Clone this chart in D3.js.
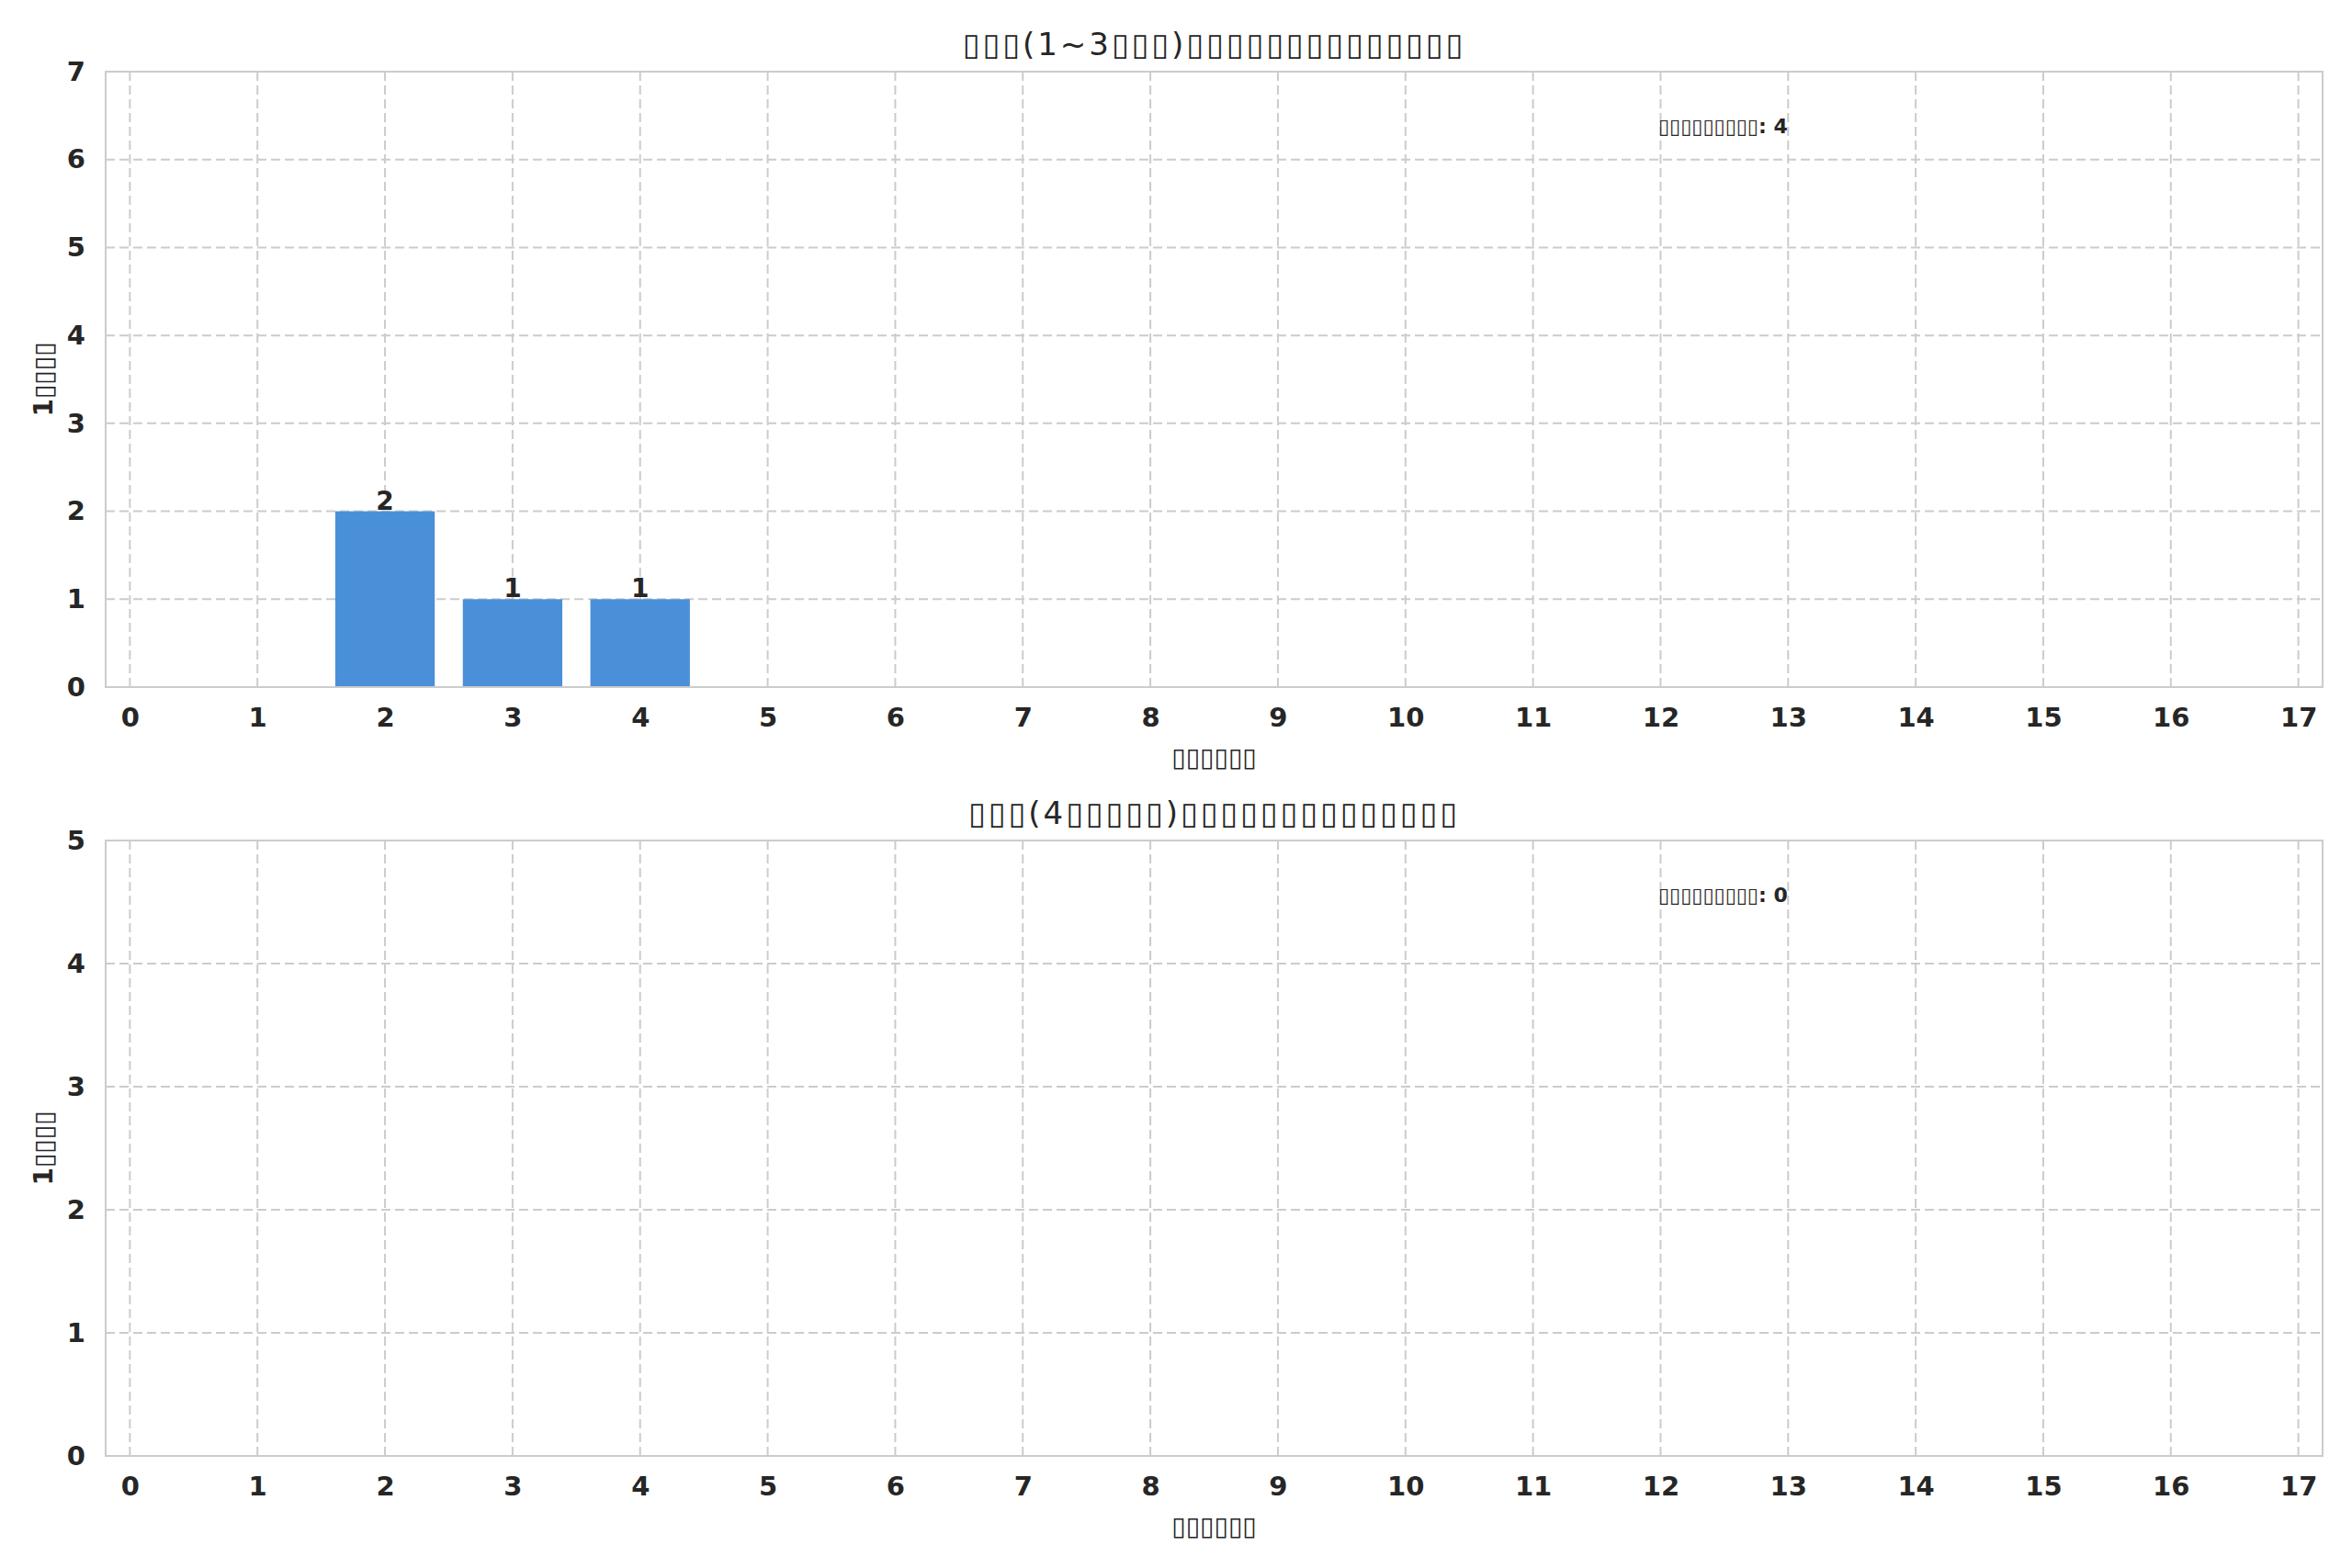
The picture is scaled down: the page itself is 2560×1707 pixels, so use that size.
<!DOCTYPE html>
<html>
<head>
<meta charset="utf-8">
<script src="https://cdn.jsdelivr.net/npm/d3@7"></script>
<style>
  body { margin: 0; background: #fff; }
  text { font-family: "DejaVu Sans", sans-serif; fill: #262626; }
</style>
</head>
<body>
<div id="chart-area"></div>
<script>
// glyphs the original font could not draw are kept as boxes
const box = "\u25AF";

const attempts = d3.range(0, 18);
const upperCounts = [0, 0, 2, 1, 1, 0, 0, 0, 0, 0, 0, 0, 0, 0, 0, 0, 0, 0];
const lowerCounts = [0, 0, 0, 0, 0, 0, 0, 0, 0, 0, 0, 0, 0, 0, 0, 0, 0, 0];
const upperYTicks = [0, 1, 2, 3, 4, 5, 6, 7];
const lowerYTicks = [0, 1, 2, 3, 4, 5];
const xTickLabels = attempts.map(d => String(d));

const titles = [
    box.repeat(3) + "(1~3" + box.repeat(3) + ")" + box.repeat(14),
    box.repeat(3) + "(4" + box.repeat(5) + ")" + box.repeat(14)
];
const xLabel = box.repeat(6);
const yLabel = "1" + box.repeat(4);
const noteLabel = box.repeat(9) + ": ";

const full_width = 2560, full_height = 1707;
const margin = { left: 115, right: 32 };
const width = full_width - margin.left - margin.right;
const panelHeight = 670;
const panelTops = [78, 915];

const svg = d3.select("#chart-area").append("svg")
    .attr("width", full_width).attr("height", full_height);

const x = d3.scaleLinear().domain([-0.19, 17.19]).range([0, width]);

function drawPanel(top, counts, yTicks, title) {
    const g = svg.append("g").attr("transform", "translate(" + margin.left + ", " + top + ")");
    const y = d3.scaleLinear().domain([0, d3.max(yTicks)]).range([panelHeight, 0]);

    // grid
    g.append("g").selectAll("line.vgrid").data(attempts).enter()
        .append("line")
        .attr("x1", d => x(d)).attr("x2", d => x(d))
        .attr("y1", 0).attr("y2", panelHeight)
        .attr("stroke", "#cccccc").attr("stroke-width", 2)
        .attr("stroke-dasharray", "10,5");
    g.append("g").selectAll("line.hgrid").data(yTicks).enter()
        .append("line")
        .attr("x1", 0).attr("x2", width)
        .attr("y1", d => y(d)).attr("y2", d => y(d))
        .attr("stroke", "#cccccc").attr("stroke-width", 2)
        .attr("stroke-dasharray", "10,5");

    // bars
    const barW = x(0.78) - x(0);
    const rows = counts.map((v, i) => ({ k: attempts[i], v: v }));
    g.selectAll("rect.bar").data(rows).enter()
        .append("rect")
        .attr("x", d => x(d.k) - barW / 2)
        .attr("y", d => y(d.v))
        .attr("width", barW)
        .attr("height", d => panelHeight - y(d.v))
        .attr("fill", "#4a90d9");

    g.selectAll("text.barlabel").data(rows.filter(d => d.v > 0)).enter()
        .append("text")
        .attr("x", d => x(d.k))
        .attr("y", d => y(d.v) - 2)
        .attr("text-anchor", "middle")
        .attr("font-size", "28px")
        .attr("font-weight", "bold")
        .text(d => d.v);

    // frame
    g.append("rect")
        .attr("width", width).attr("height", panelHeight)
        .attr("fill", "none").attr("stroke", "#cccccc").attr("stroke-width", 2);

    // axes
    const xAxisCall = d3.axisBottom(x).tickValues(attempts).tickSize(0).tickPadding(22)
        .tickFormat((d, i) => xTickLabels[i]);
    const yAxisCall = d3.axisLeft(y).tickValues(yTicks).tickSize(0).tickPadding(22)
        .tickFormat(d => d);

    const xa = g.append("g").attr("class", "x-axis")
        .attr("transform", "translate(0, " + panelHeight + ")")
        .call(xAxisCall);
    const ya = g.append("g").attr("class", "y-axis").call(yAxisCall);
    [xa, ya].forEach(a => {
        a.select(".domain").remove();
        a.selectAll("text").attr("font-size", "29px").attr("font-weight", "bold")
            .attr("font-family", "DejaVu Sans").attr("fill", "#262626");
    });

    // titles and labels
    g.append("text")
        .attr("x", width / 2).attr("y", -18)
        .attr("text-anchor", "middle")
        .attr("font-size", "34px")
        .attr("letter-spacing", "3px")
        .text(title);

    g.append("text")
        .attr("x", width / 2).attr("y", panelHeight + 86)
        .attr("text-anchor", "middle")
        .attr("font-size", "28px")
        .attr("font-weight", "bold")
        .text(xLabel);

    g.append("text")
        .attr("x", -panelHeight / 2).attr("y", -58)
        .attr("text-anchor", "middle")
        .attr("font-size", "28px")
        .attr("font-weight", "bold")
        .attr("transform", "rotate(-90)")
        .text(yLabel);

    g.append("text")
        .attr("x", 1690).attr("y", 67)
        .attr("font-size", "22px")
        .attr("font-weight", "bold")
        .text(noteLabel + d3.sum(counts));
}

drawPanel(panelTops[0], upperCounts, upperYTicks, titles[0]);
drawPanel(panelTops[1], lowerCounts, lowerYTicks, titles[1]);
</script>
</body>
</html>
